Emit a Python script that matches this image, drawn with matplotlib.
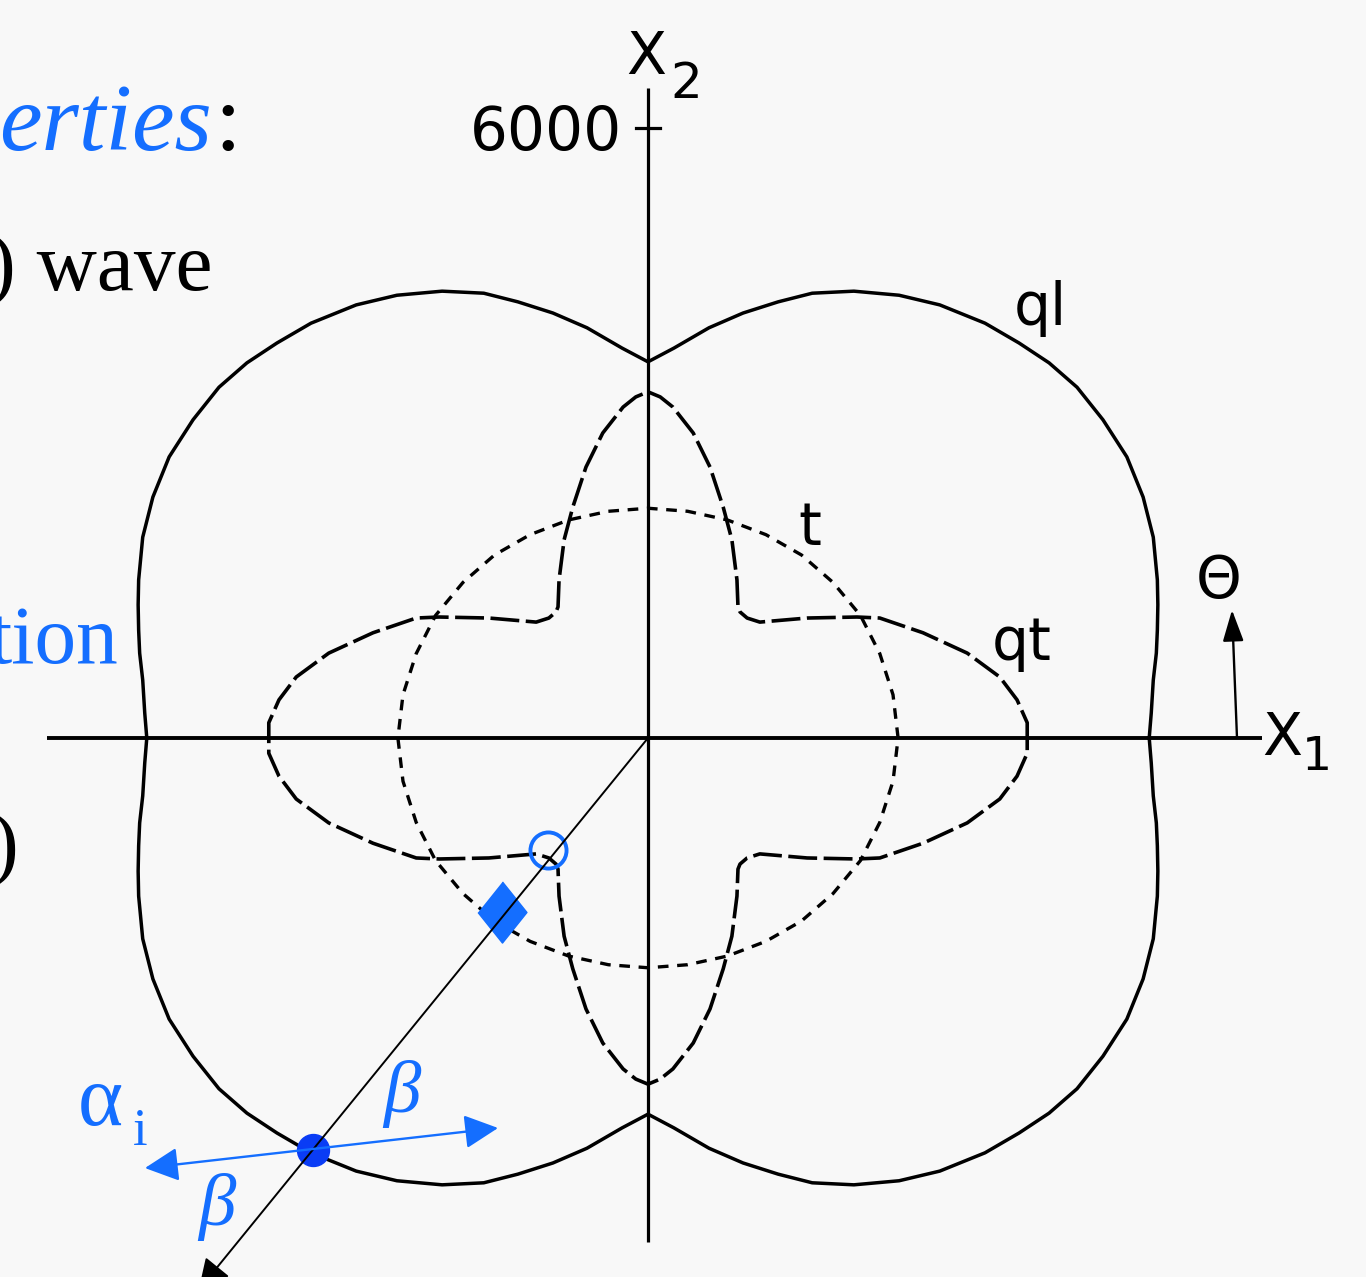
import numpy as np
import matplotlib.pyplot as plt

W, H = 1366, 1277
CX, CY = 648, 738          # pixel position of the origin
K = 6000 / 610             # m/s per pixel

BLUE = '#146eff'
DOT_BLUE = '#0a3cf5'
BG = '#f8f8f8'

# first-quadrant points of each curve (m/s)
ql_x = [4930, 4950, 4970, 5000, 5010, 5015, 5010, 4970, 4870, 4710, 4475, 4220, 3945,
        3650, 3315, 2870, 2470, 2025, 1615, 1280, 935, 600, 255, 0]
ql_y = [0, 245, 570, 835, 1060, 1310, 1555, 1975, 2370, 2765, 3130, 3450, 3690,
        3885, 4080, 4260, 4355, 4395, 4375, 4290, 4180, 4035, 3835, 3700]

qt_x = [3730, 3730, 3630, 3460, 3140, 2705, 2280, 2055, 1565, 1100, 975, 905, 885,
        875, 825, 740, 610, 445, 245, 120, 0]
qt_y = [0, 150, 375, 600, 835, 1035, 1180, 1190, 1180, 1140, 1180, 1240, 1290,
        1555, 1950, 2270, 2665, 3000, 3255, 3355, 3405]

t_x = [2460, 2410, 2280, 2090, 1820, 1510, 1160, 780, 390, 0]
t_y = [0, 425, 830, 1205, 1530, 1800, 2000, 2145, 2230, 2260]

# points where the ray hits the curves
ql_hit = (-3295, -4050)
t_hit = (-1440, -1710)
qt_hit = (-985, -1100)
ray_tip = (-4420, -5430)
pol_left = (-4948, -4230)
pol_right = (-1475, -3836)


def full_curve(qx, qy):
    qx = np.array(qx, float)
    qy = np.array(qy, float)
    x = np.concatenate([qx, -qx[::-1][1:], -qx[1:], qx[::-1][1:]])
    y = np.concatenate([qy, qy[::-1][1:], -qy[1:], -qy[::-1][1:]])
    return x, y


def px(x, y):
    return (x - CX) * K, (CY - y) * K


fig = plt.figure(figsize=(W / 100, H / 100), dpi=100, facecolor=BG)
ax = fig.add_axes([0, 0, 1, 1])
ax.set_xlim(-CX * K, (W - CX) * K)
ax.set_ylim((CY - H) * K, CY * K)
ax.axis('off')

# axes
ax.plot([-5910, 6040], [0, 0], color='black', lw=2.8, solid_capstyle='butt')
ax.plot([0, 0], [-4960, 6390], color='black', lw=2.3, solid_capstyle='butt')
ax.plot([-120, 120], [6000, 6000], color='black', lw=2.3)

# curves
x, y = full_curve(ql_x, ql_y)
ax.plot(x, y, color='black', lw=2.5, solid_joinstyle='round')
x, y = full_curve(qt_x, qt_y)
ax.plot(x, y, color='black', lw=2.6, linestyle=(0, (8, 1.8)))
x, y = full_curve(t_x, t_y)
ax.plot(x, y, color='black', lw=2.4, linestyle=(0, (3.2, 2.6)))

# ray from origin
ax.annotate('', xy=ray_tip, xytext=(0, 0), annotation_clip=False,
            arrowprops=dict(arrowstyle='-|>', color='black', lw=1.4,
                            mutation_scale=48, shrinkA=0, shrinkB=0))

# polarisation arrows
ax.annotate('', xy=pol_right, xytext=pol_left,
            arrowprops=dict(arrowstyle='<|-|>', color=BLUE, lw=1.7,
                            mutation_scale=52, shrinkA=0, shrinkB=0))

ax.plot(*qt_hit, marker='o', ms=26, mfc='none', mec=BLUE, mew=2.8)
ax.plot(*t_hit, marker=[(0, 1), (0.8, 0), (0, -1), (-0.8, 0)], ms=44,
        color=BLUE, mec=BLUE)
ax.plot(*ql_hit, marker='o', ms=23, color=DOT_BLUE, mec=DOT_BLUE)

# theta arrow
ax.annotate('', xy=px(1232, 610), xytext=px(1237, 738),
            arrowprops=dict(arrowstyle='-|>,head_length=0.6,head_width=0.2',
                            color='black', lw=1.7, mutation_scale=32,
                            shrinkA=0, shrinkB=0))

sans = ['DejaVu Sans']
serif = ['Liberation Serif', 'DejaVu Serif']


def label(s, x, y, size=42, **kw):
    kw.setdefault('family', sans)
    ax.text(*px(x, y), s, fontsize=size, ha=kw.pop('ha', 'left'),
            va=kw.pop('va', 'baseline'), **kw)


label('6000', 622, 150, size=43, ha='right')
label('X', 626, 74)
label('2', 670, 98, size=36)
label('X', 1262, 755)
label('1', 1302, 770, size=34)
label('ql', 1014, 325)
label('t', 798, 545)
label('qt', 992, 660)
label('\u0398', 1196, 598)

label('\u03b1', 78, 1125, size=62, family=serif, color=BLUE)
label('i', 133, 1145, size=38, family=serif, color=BLUE)
label('\u03b2', 383, 1112, size=54, family=serif, style='italic', color=BLUE)
label('\u03b2', 198, 1225, size=54, family=serif, style='italic', color=BLUE)

# slide text cut off at the left edge
label('erties', 212, 150, size=69, family=serif, style='italic', color=BLUE, ha='right')
label(':', 214, 150, size=69, family=serif)
label(') wave', 212, 290, size=60, family=serif, ha='right')
label('tion', 118, 663, size=60, family=serif, color=BLUE, ha='right')
label(')', 18, 870, size=60, family=serif, ha='right')

fig.savefig('out.png', dpi=100, facecolor=BG)
